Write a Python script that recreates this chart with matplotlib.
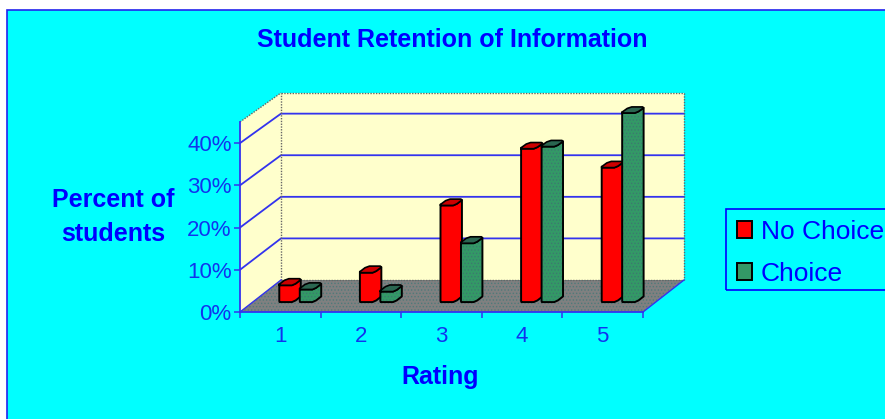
import matplotlib
matplotlib.use('Agg')
import matplotlib.pyplot as plt
from matplotlib.patches import Polygon, Patch, Rectangle

# data
ratings = [1, 2, 3, 4, 5]
no_choice = [4, 7, 23, 36.5, 32]
choice = [3, 2.5, 14, 37, 45]
y_ticks = [0, 10, 20, 30, 40]
y_labels = ['0%', '10%', '20%', '30%', '40%']
series_names = ['No Choice', 'Choice']

BLUE = '#0000FF'
GRID = '#3333EE'
CYAN = '#00FFFF'
WALL = '#FFFFCC'

plt.rcParams['font.family'] = ['Liberation Sans', 'DejaVu Sans']
plt.rcParams['hatch.linewidth'] = 0.6

W, H = 885, 419
fig = plt.figure(figsize=(W / 100, H / 100), dpi=100, facecolor='white')

# cyan panel, runs off the right and bottom edge
fig.patches.append(Rectangle((7 / W, -0.01), 1, (H - 10) / H + 0.01, transform=fig.transFigure,
                             facecolor=CYAN, edgecolor='#2222EE', lw=1.2, zorder=-5))
# legend box, also runs off the right edge
fig.patches.append(Rectangle((725.5 / W, 1 - 290 / H), 1, 81.5 / H, transform=fig.transFigure,
                             facecolor='none', edgecolor=BLUE, lw=1.2, zorder=-4))

ax = fig.add_axes([240 / W, (H - 312) / H, 403 / W, 190 / H])
ax.set_xlim(0.5, 5.5)
ax.set_ylim(0, 45)
ax.patch.set_alpha(0)

# oblique projection of the 3d box, d=0 front plane, d=1 back wall
shift_x = 41 / (403 / 5)
shift_y = 32 / (190 / 45)


def proj(x, v, d):
    return x + d * shift_x, v * (1 - 0.015 * d) + d * shift_y


def face(points, fc, ec='none', lw=0, hatch=None, hc=None, z=1, **kw):
    xy = [proj(*p) for p in points]
    if hatch:
        ax.add_patch(Polygon(xy, closed=True, facecolor=fc, edgecolor=hc, lw=0, hatch=hatch,
                             zorder=z, clip_on=False))
        fc = 'none'
    ax.add_patch(Polygon(xy, closed=True, facecolor=fc, edgecolor=ec, lw=lw, zorder=z,
                         clip_on=False, joinstyle='round', **kw))


x0, x1 = 0.5, 5.5
top = 45
# walls and floor
face([(x0, 0, 1), (x1, 0, 1), (x1, top, 1), (x0, top, 1)], WALL, z=1)
face([(x0, 0, 0), (x0, 0, 1), (x0, top, 1), (x0, top, 0)], WALL, z=1)
face([(x0, 0, 0), (x1, 0, 0), (x1, 0, 1), (x0, 0, 1)], '#808080', hatch='.....', hc='#4f7a7a', z=2)

# dotted wall outline
for a, b in [((x0, 0, 1), (x0, top, 1)), ((x0, top, 1), (x1, top, 1)),
             ((x1, top, 1), (x1, 0, 1)), ((x0, top, 0), (x0, top, 1)),
             ((x0, 0, 1), (x1, 0, 1))]:
    p, q = proj(*a), proj(*b)
    ax.plot([p[0], q[0]], [p[1], q[1]], color='#666666', lw=1, ls=(0, (1, 1)), zorder=2.5, clip_on=False)

# gridlines along side wall and back wall
for v in y_ticks[1:]:
    pts = [proj(x0, v, 0), proj(x0, v, 1), proj(x1, v, 1)]
    ax.plot([p[0] for p in pts], [p[1] for p in pts], color=GRID, lw=1.3, zorder=2.2, clip_on=False)

# floor edges
for a, b in [((x1, 0, 0), (x1, 0, 1)), ((x0, 0, 0), (x0, 0, 1))]:
    p, q = proj(*a), proj(*b)
    ax.plot([p[0], q[0]], [p[1], q[1]], color=GRID, lw=1, zorder=2.6, clip_on=False)

bar_w = 15.5 / (403 / 5)
bar_depth = 8.5 / 41
bar_d0 = 0.31
red_off = -0.186
green_off = 0.068
# chamfered footprint of a column: fraction of width, fraction of depth
body_chain = [(0, .15), (.1, 0), (.9, 0), (1, .25), (1, .85)]
top_chain = [(0, .15), (.1, 0), (.9, 0), (1, .25), (1, .85), (.85, 1), (.15, 1), (0, .75)]


def column(x, v, body, lid, z, hatch=None, hc=None):
    fp = lambda c, val: (x + c[0] * bar_w, val, bar_d0 + c[1] * bar_depth)
    outline = [fp(c, 0) for c in body_chain] + [fp(c, v) for c in body_chain[::-1]]
    face(outline, body, ec='black', lw=1.4, z=z, hatch=hatch, hc=hc)
    face([fp(c, v) for c in top_chain], lid, ec='black', lw=1.2, z=z + 0.1)


z = 3
for r, a, b in zip(ratings, no_choice, choice):
    column(r + red_off, a, '#FF0000', '#CC0000', z)
    column(r + green_off, b, '#339966', '#2A6650', z + 0.2, hatch='.....', hc='#3C7A70')
    z += 1

# axes
ax.spines[['top', 'right']].set_visible(False)
for s in ['left', 'bottom']:
    ax.spines[s].set_color(GRID)
    ax.spines[s].set_linewidth(1.3)
ax.set_yticks(y_ticks)
ax.set_yticklabels(y_labels)
ax.set_xticks(ratings)
ax.set_xticklabels(ratings)
ax.set_xticks([0.5, 1.5, 2.5, 3.5, 4.5, 5.5], minor=True)
ax.tick_params(axis='x', which='major', length=0, pad=10, labelsize=16, labelcolor='#1133EE')
ax.tick_params(axis='x', which='minor', length=4, width=1.1, color=GRID)
ax.tick_params(axis='y', length=4, width=1.1, color=GRID, pad=2, labelsize=16, labelcolor='#1133EE')

fig.text(452 / W, 1 - 40 / H, 'Student Retention of Information', color=BLUE, fontsize=18,
         fontweight='bold', ha='center', va='center')
fig.text(113 / W, 1 - 217 / H, 'Percent of\nstudents', color=BLUE, fontsize=18, fontweight='bold',
         ha='center', va='center', linespacing=1.5)
fig.text(440 / W, 1 - 377 / H, 'Rating', color=BLUE, fontsize=18, fontweight='bold',
         ha='center', va='center')

handles = [Patch(facecolor='#FF0000', edgecolor='black', lw=1.4, label=series_names[0]),
           Patch(facecolor='#339966', edgecolor='black', lw=1.4, label=series_names[1])]
leg = fig.legend(handles=handles, loc='upper left', bbox_to_anchor=(725.5 / W, 1 - 208.5 / H),
                 borderaxespad=0, frameon=False, fontsize=19, labelcolor=BLUE,
                 handlelength=0.58, handleheight=0.6, handletextpad=0.33,
                 borderpad=0.42, labelspacing=0.68)

fig.savefig('out.png', dpi=100, facecolor='white')
